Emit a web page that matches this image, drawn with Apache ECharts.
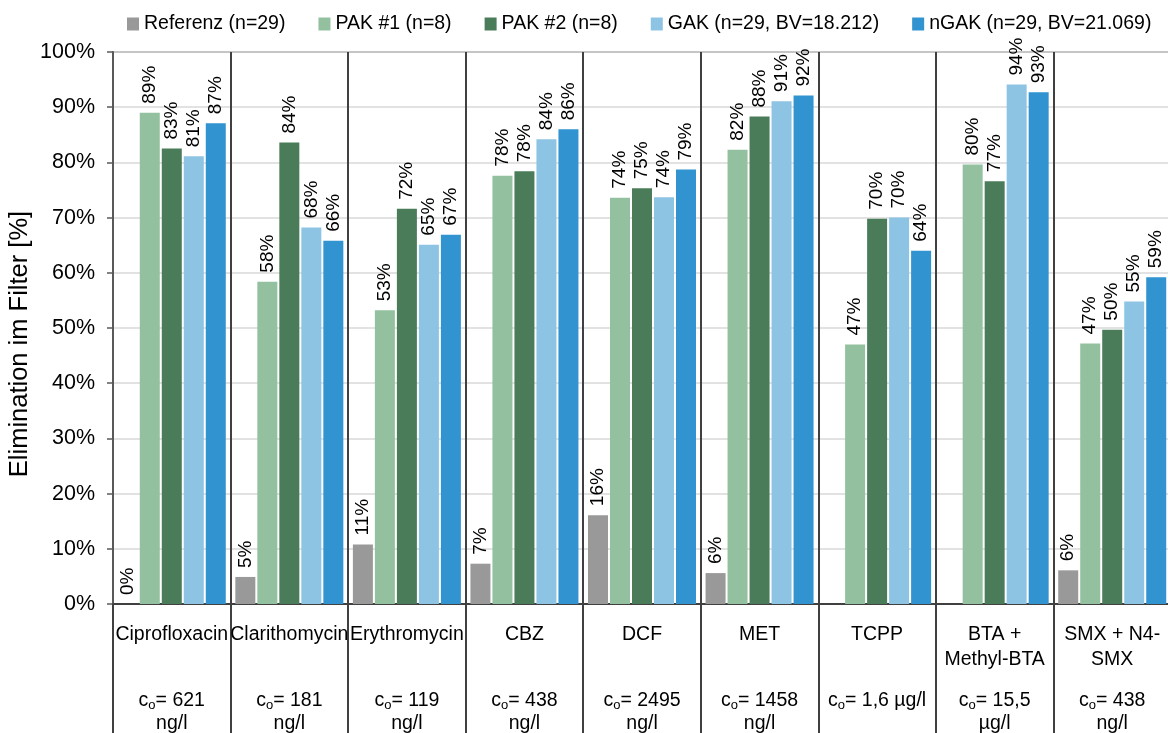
<!DOCTYPE html>
<html>
<head>
<meta charset="utf-8">
<script src="https://cdn.jsdelivr.net/npm/echarts@6/dist/echarts.min.js"></script>
<style>html,body{margin:0;padding:0;background:#fff}#c{width:1168px;height:733px}</style>
</head>
<body>
<div id="c"></div>
<script>
const categories = ['Ciprofloxacin','Clarithomycin','Erythromycin','CBZ','DCF','MET','TCPP','BTA +\nMethyl-BTA','SMX + N4-\nSMX'];
const c0Values = ['621','181','119','438','2495','1458','1,6 µg/l','15,5','438'];
const c0Units = ['ng/l','ng/l','ng/l','ng/l','ng/l','ng/l','','µg/l','ng/l'];
const seriesNames = ['Referenz (n=29)','PAK #1 (n=8)','PAK #2 (n=8)','GAK (n=29, BV=18.212)','nGAK (n=29, BV=21.069)'];
const referenz = [0, 4.9, 10.8, 7.3, 16.1, 5.6, null, null, 6.1];
const pak1 = [89.0, 58.4, 53.2, 77.6, 73.6, 82.3, 47.0, 79.6, 47.2];
const pak2 = [82.5, 83.6, 71.6, 78.4, 75.3, 88.3, 69.8, 76.6, 49.7];
const gak = [81.1, 68.2, 65.1, 84.2, 73.7, 91.1, 70.0, 94.1, 54.8];
const ngak = [87.1, 65.8, 66.9, 86.0, 78.7, 92.1, 64.0, 92.7, 59.2];
const yTicks = [0,10,20,30,40,50,60,70,80,90,100];
const colors = ['#999999','#93c19f','#4a7c59','#8ec4e3','#3193cf'];

const FONT = "'Liberation Sans', Arial, sans-serif";
const chart = echarts.init(document.getElementById('c'), null, {renderer:'canvas'});

const allData = [referenz, pak1, pak2, gak, ngak];
const series = allData.map((d, i) => ({
  name: seriesNames[i],
  type: 'bar',
  data: d,
  barWidth: 20,
  barGap: '10%',
  itemStyle: {color: colors[i]},
  label: {
    show: true,
    position: 'top',
    rotate: 90,
    align: 'left',
    verticalAlign: 'middle',
    distance: 9,
    fontSize: 19,
    fontFamily: FONT,
    color: '#000',
    formatter: p => (p.value == null ? '' : Math.round(p.value) + '%')
  }
}));

chart.setOption({
  animation: false,
  color: colors,
  textStyle: {fontFamily: FONT},
  legend: {
    top: 9,
    left: 122,
    itemWidth: 12,
    itemHeight: 13,
    itemGap: 33,
    icon: 'rect',
    textStyle: {fontSize: 19.5, color: '#000', fontFamily: FONT},
    data: seriesNames
  },
  grid: {
    left: 113, width: 1058, top: 52, height: 552,
    containLabel: false,
    outerBoundsMode: 'none',
    show: true, borderColor: '#8c8c8c', borderWidth: 2, backgroundColor: 'transparent'
  },
  xAxis: [{
    type: 'category',
    data: categories,
    axisLine: {show: true, lineStyle: {color: '#404040', width: 2}},
    axisTick: {show: true, interval: 0, length: 130, lineStyle: {color: '#404040', width: 2}},
    splitLine: {show: true, interval: 0, lineStyle: {color: '#404040', width: 2}},
    axisLabel: {
      interval: 0, hideOverlap: false, margin: 18,
      fontSize: 19.5, lineHeight: 25, color: '#000', fontFamily: FONT
    }
  }, {
    type: 'category',
    position: 'bottom',
    data: categories,
    axisLine: {show: false},
    axisTick: {show: false},
    splitLine: {show: false},
    axisLabel: {
      interval: 0, hideOverlap: false, margin: 85,
      color: '#000', fontFamily: FONT, fontSize: 19.5, lineHeight: 23,
      formatter: (v, idx) => '{t|c}{s|o}{t|= ' + c0Values[idx] + '}' + (c0Units[idx] ? '\n{t|' + c0Units[idx] + '}' : ''),
      rich: {
        t: {fontSize: 19.5, lineHeight: 23, fontFamily: FONT, color: '#000'},
        s: {fontSize: 13, lineHeight: 23, fontFamily: FONT, color: '#000', verticalAlign: 'bottom', padding: [6, 0, 0, 0]}
      }
    }
  }],
  yAxis: {
    type: 'value',
    min: 0, max: 100, interval: 10,
    name: 'Elimination im Filter [%]',
    nameLocation: 'middle',
    nameGap: 80,
    nameMoveOverlap: false,
    nameTextStyle: {fontSize: 25.5, color: '#000', fontFamily: FONT, padding: [0, 32, 0, 0]},
    axisLine: {show: true, lineStyle: {color: '#595959', width: 2}},
    axisTick: {show: true, length: 6, lineStyle: {color: '#595959', width: 1.5}},
    splitLine: {show: true, lineStyle: {color: '#d9d9d9', width: 1.5}},
    axisLabel: {margin: 18, fontSize: 21.5, color: '#000', fontFamily: FONT,
      formatter: v => (yTicks.indexOf(v) >= 0 ? v + '%' : '')}
  },
  series: series
});
</script>
</body>
</html>
